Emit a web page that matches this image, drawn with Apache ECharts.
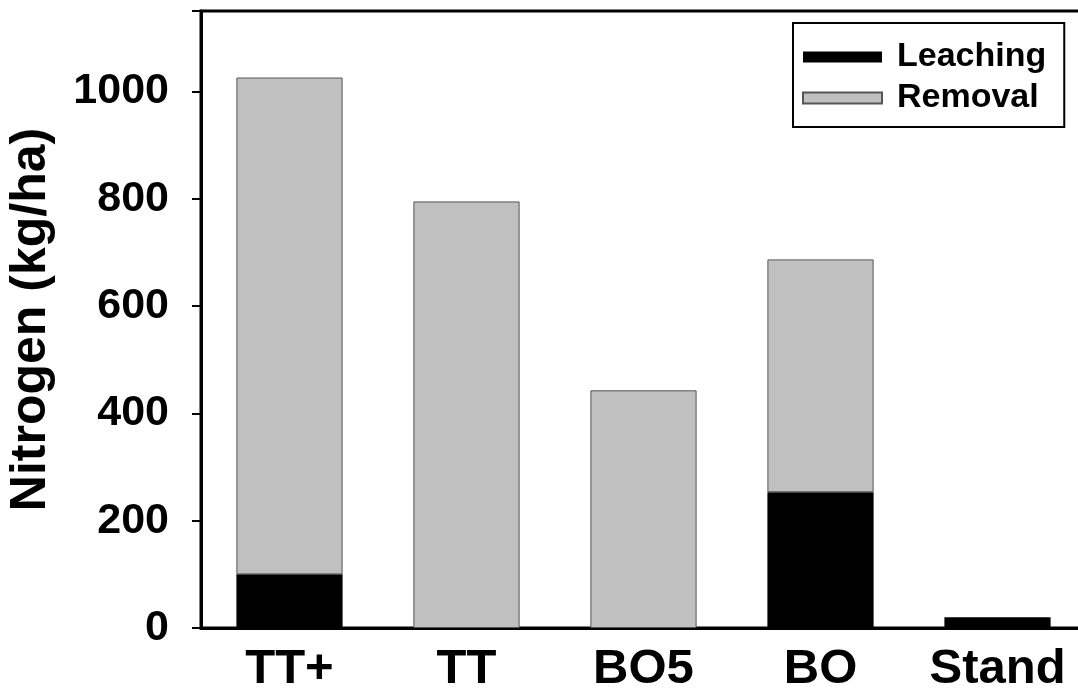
<!DOCTYPE html>
<html>
<head>
<meta charset="utf-8">
<script src="https://cdn.jsdelivr.net/npm/echarts@6/dist/echarts.min.js"></script>
<style>html,body{margin:0;padding:0;background:#fff}#c{width:1078px;height:690px}</style>
</head>
<body>
<div id="c"></div>
<script>
var categories = ['TT+', 'TT', 'BO5', 'BO', 'Stand'];
var leaching = [100, '-', '-', 253, 20];
var removal = [926, 795, 443, 434, '-'];
var yTicks = [0, 200, 400, 600, 800, 1000];

var FONT = 'Liberation Sans, Arial, Helvetica, sans-serif';
var chart = echarts.init(document.getElementById('c'), null, {renderer: 'canvas'});
chart.setOption({
  animation: false,
  backgroundColor: '#fff',
  grid: {left: 201, top: 11, right: -8, bottom: 62, show: true, borderColor: '#000', borderWidth: 3,
    backgroundColor: 'transparent', containLabel: false, outerBoundsMode: 'none'},
  legend: {
    orient: 'vertical', left: 793, top: 23,
    data: ['Leaching', 'Removal'],
    itemWidth: 79, itemHeight: 11, itemGap: 7,
    icon: 'rect',
    borderColor: '#000', borderWidth: 2,
    padding: [17, 18, 12, 9],
    textStyle: {fontFamily: FONT, fontWeight: 'bold', fontSize: 34, color: '#000', padding: [0, 0, 0, 10]}
  },
  xAxis: {
    type: 'category', data: categories,
    axisLine: {lineStyle: {color: '#000', width: 3}},
    axisTick: {show: false},
    axisLabel: {fontFamily: FONT, fontWeight: 'bold', fontSize: 49, color: '#000', margin: 17}
  },
  yAxis: {
    type: 'value', min: 0, max: 1150, interval: 200,
    name: 'Nitrogen (kg/ha)', nameLocation: 'middle', nameGap: 145,
    nameTextStyle: {fontFamily: FONT, fontWeight: 'bold', fontSize: 50, color: '#000'},
    axisLine: {show: true, lineStyle: {color: '#000', width: 3}},
    axisTick: {show: true, length: 9, lineStyle: {color: '#000', width: 2}},
    splitLine: {show: false},
    axisLabel: {fontFamily: FONT, fontWeight: 'bold', fontSize: 43, color: '#000', margin: 32,
      formatter: function (v) { return yTicks.indexOf(v) >= 0 ? String(v) : ''; }}
  },
  series: [
    {name: 'Leaching', type: 'bar', stack: 'n', data: leaching, barWidth: '60%',
      itemStyle: {color: '#000', borderColor: '#000', borderWidth: 0}},
    {name: 'Removal', type: 'bar', stack: 'n', data: removal, barWidth: '60%',
      itemStyle: {color: '#c0c0c0', borderColor: '#555', borderWidth: 1}}
  ]
});
</script>
</body>
</html>
